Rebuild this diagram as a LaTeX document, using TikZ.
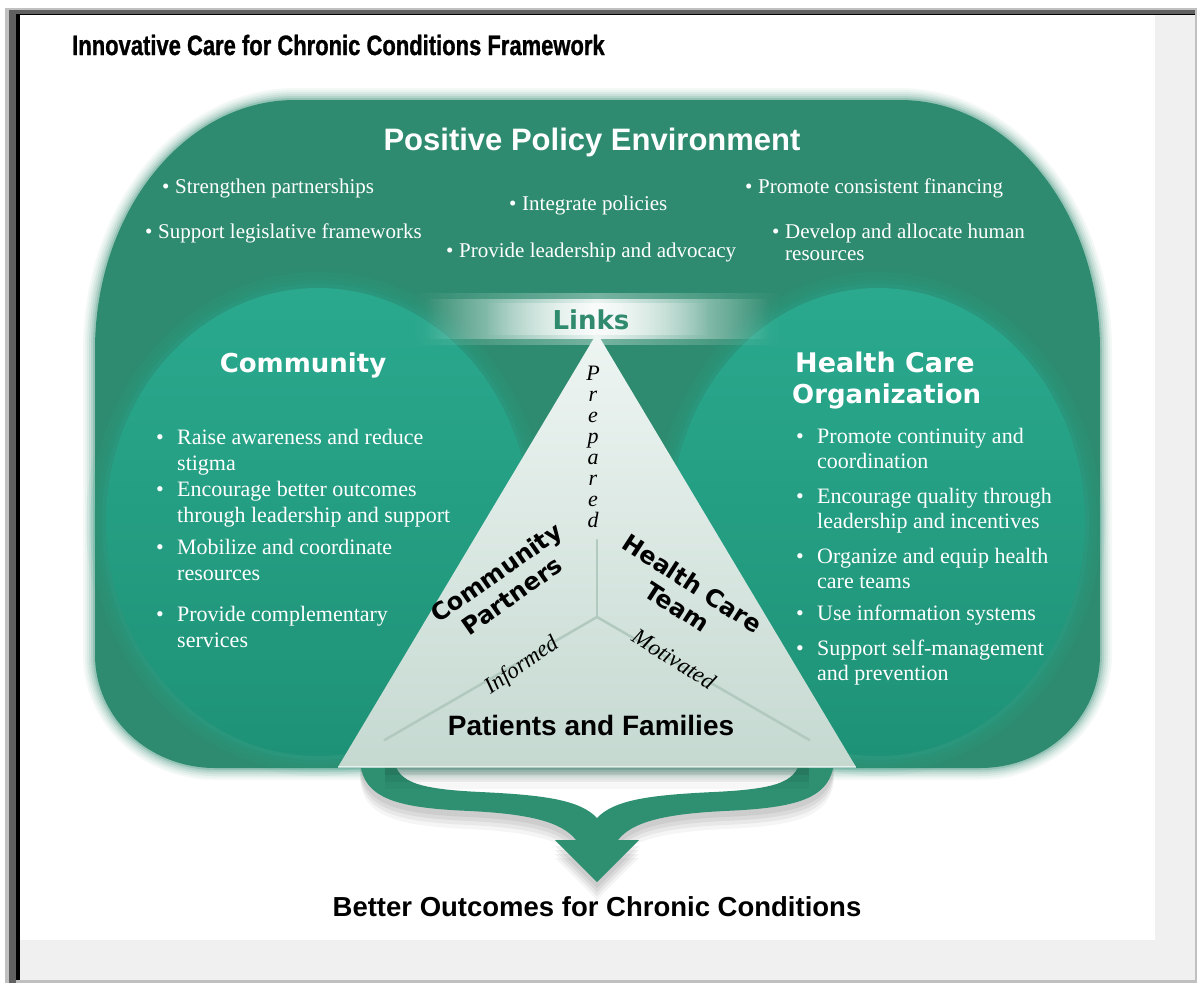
\documentclass[tikz,border=0pt]{standalone}
\usepackage{fontspec}
\usetikzlibrary{calc,fadings}
\setmainfont{Liberation Serif}
\newfontfamily\hvfont{Liberation Sans}
\newfontfamily\djfont{DejaVu Sans}
\newfontfamily\condfont[FakeStretch=0.785,FakeBold=1]{Liberation Sans}
\definecolor{outergreen}{HTML}{2E8B6F}
\definecolor{tealtop}{HTML}{2AA98E}
\definecolor{tealbot}{HTML}{1E9276}
\definecolor{linkgreen}{HTML}{2F8A6E}
\definecolor{tritop}{HTML}{EEF5F2}
\definecolor{tribot}{HTML}{C5D9D1}
\definecolor{arrowgreen}{HTML}{2E9071}
\definecolor{pagegray}{HTML}{F0F0F0}
\definecolor{lightrule}{HTML}{C0C0C0}
\definecolor{darkrule}{HTML}{606060}
\definecolor{yline}{HTML}{B2C9C0}
\tikzfading[name=hfade, left color=transparent!100, right color=transparent!100, middle color=transparent!0]
\tikzset{
  wtext/.style={text=white, inner sep=0pt},
  polfont/.style={font=\fontsize{21}{24}\selectfont},
  bulfont/.style={font=\fontsize{22}{26}\selectfont},
  head/.style={text=white, inner sep=0pt, font=\djfont\bfseries\fontsize{26}{31}\selectfont},
  tritext/.style={text=black, inner sep=0pt, align=center, font=\djfont\bfseries\fontsize{24}{28}\selectfont},
  itext/.style={text=black, inner sep=0pt, font=\itshape\fontsize{23}{23}\selectfont},
  bigsans/.style={text=black, inner sep=0pt, font=\hvfont\bfseries\fontsize{28}{32}\selectfont},
}
\def\outerpath{(95,350) arc[start angle=180, end angle=270, x radius=200, y radius=250]
  -- (900,100) arc[start angle=270, end angle=360, x radius=200, y radius=250]
  -- (1100,655) arc[start angle=0, end angle=90, x radius=120, y radius=113]
  -- (215,768) arc[start angle=90, end angle=180, x radius=120, y radius=113] -- cycle}
\def\arrowpath{(597,818) .. controls (580,800) and (545,795) .. (480,792)
  .. controls (420,789) and (398,783) .. (394,760) -- (360,760)
  .. controls (362,800) and (400,808) .. (470,811)
  .. controls (530,814) and (562,822) .. (576,840)
  -- (555,840) -- (597,882) -- (639,840) -- (618,840)
  .. controls (632,822) and (664,814) .. (724,811)
  .. controls (794,808) and (832,800) .. (834,760) -- (800,760)
  .. controls (796,783) and (774,789) .. (714,792)
  .. controls (649,795) and (614,800) .. (597,818) -- cycle}
\begin{document}
\begin{tikzpicture}[x=1pt,y=-1pt]
\useasboundingbox (0,0) rectangle (1197,983);
% page frame
\fill[pagegray] (0,0) rectangle (1197,983);
\fill[white] (0,0) rectangle (1197,8);
\fill[white] (0,0) rectangle (5,983);
\fill[white] (20,15) rectangle (1155,940);
\fill[lightrule] (5,8) rectangle (1197,10);
\fill[darkrule] (9,10) rectangle (1195,14);
\fill[black] (16,14) rectangle (1195,15);
\fill[lightrule] (5,8) rectangle (9,983);
\fill[darkrule] (9,10) rectangle (16,983);
\fill[black] (16,14) rectangle (20,980);
\fill[lightrule] (1195,8) rectangle (1197,983);
\fill[lightrule] (16,980) rectangle (1197,983);

% outer policy environment shape with soft edge
\foreach \lw/\op in {24/0.05, 20/0.06, 16/0.08, 12/0.10, 8/0.14, 4/0.22}
  \draw[outergreen, line width=\lw pt, opacity=\op, line join=round] \outerpath;
\fill[outergreen] \outerpath;

% community and health care organization areas
\foreach \d/\op in {20/0.05, 16/0.07, 12/0.09, 8/0.12, 4/0.18} {
  \fill[tealtop, opacity=\op] (318,522) ellipse [x radius=212+\d, y radius=234+\d];
  \fill[tealtop, opacity=\op] (878,522) ellipse [x radius=207+\d, y radius=234+\d];
}
\shade[top color=tealtop, bottom color=tealbot] (318,522) ellipse [x radius=212, y radius=234];
\shade[top color=tealtop, bottom color=tealbot] (878,522) ellipse [x radius=207, y radius=234];

% links band
\fill[white, opacity=0.35, path fading=hfade] (412,293) rectangle (782,345);
\fill[white, opacity=0.85, path fading=hfade] (425,299) rectangle (769,339);
\fill[white, opacity=0.75, path fading=hfade] (485,303) rectangle (709,335);

% arrow with shadow
\foreach \dy/\op in {18/0.04, 14/0.05, 10/0.06, 6/0.06}
  \fill[black, opacity=\op, yshift=-\dy pt] \arrowpath;
\fill[arrowgreen] \arrowpath;

% shadow under triangle
\foreach \h/\op in {22/0.03, 15/0.05, 8/0.07}
  \fill[black, opacity=\op] (385,767) rectangle (809,767+\h);

% triangle
\coordinate (apex) at (597,333);
\coordinate (bl) at (338,767);
\coordinate (br) at (856,767);
\coordinate (ctr) at (597,617);
\shade[top color=tritop, bottom color=tribot] (apex) -- (br) -- (bl) -- cycle;
\draw[white, opacity=0.6, line width=2pt] (bl) -- (br);
% Y lines
\coordinate (ytop) at (597,540);
\coordinate (yl) at ($(ctr)!0.82!(bl)$);
\coordinate (yr) at ($(ctr)!0.82!(br)$);
\draw[yline, line width=2.5pt, line cap=round] (ctr) -- (ytop);
\draw[yline, line width=2.5pt, line cap=round] (ctr) -- (yl);
\draw[yline, line width=2.5pt, line cap=round] (ctr) -- (yr);

% texts
\node[anchor=west, inner sep=0pt, font=\condfont\bfseries\fontsize{28}{32}\selectfont] (title) at (72,45) {Innovative Care for Chronic Conditions Framework};
\node[wtext, font=\hvfont\bfseries\fontsize{31}{36}\selectfont] (ppe) at (592,142) {Positive Policy Environment};

\node[wtext, polfont, anchor=north west] (pol1) at (162,178.5) {\makebox[13pt][l]{•}Strengthen partnerships};
\node[wtext, polfont, anchor=north west] (pol2) at (145,223.5) {\makebox[13pt][l]{•}Support legislative frameworks};
\node[wtext, polfont, anchor=north west] (pol3) at (509,195.5) {\makebox[13pt][l]{•}Integrate policies};
\node[wtext, polfont, anchor=north west] (pol4) at (446,242.5) {\makebox[13pt][l]{•}Provide leadership and advocacy};
\node[wtext, polfont, anchor=north west] (pol5) at (745,178.5) {\makebox[13pt][l]{•}Promote consistent financing};
\node[wtext, font=\fontsize{21}{22}\selectfont, anchor=north west, align=left] (pol6) at (772,223.5) {\makebox[13pt][l]{•}Develop and allocate human\\\hspace*{13pt}resources};

\node[text=linkgreen, inner sep=0pt, font=\djfont\bfseries\fontsize{26}{31}\selectfont] (links) at (591,320) {Links};

\node[head] (community) at (303,365) {Community};
\node[head, anchor=west, font=\djfont\bfseries\fontsize{27}{31}\selectfont] (hco1h) at (795,362) {Health Care};
\node[head, anchor=west] (hco2h) at (792,396) {Organization};

\node[wtext, bulfont, anchor=north west, align=left] (com1) at (156,429) {\makebox[21pt][l]{•}Raise awareness and reduce\\\hspace*{21pt}stigma};
\node[wtext, bulfont, anchor=north west, align=left] (com2) at (156,481) {\makebox[21pt][l]{•}Encourage better outcomes\\\hspace*{21pt}through leadership and support};
\node[wtext, bulfont, anchor=north west, align=left] (com3) at (156,539) {\makebox[21pt][l]{•}Mobilize and coordinate\\\hspace*{21pt}resources};
\node[wtext, bulfont, anchor=north west, align=left] (com4) at (156,606) {\makebox[21pt][l]{•}Provide complementary\\\hspace*{21pt}services};

\node[wtext, font=\fontsize{22}{25}\selectfont, anchor=north west, align=left] (hb1) at (796,428) {\makebox[21pt][l]{•}Promote continuity and\\\hspace*{21pt}coordination};
\node[wtext, font=\fontsize{22}{25}\selectfont, anchor=north west, align=left] (hb2) at (796,488) {\makebox[21pt][l]{•}Encourage quality through\\\hspace*{21pt}leadership and incentives};
\node[wtext, font=\fontsize{22}{25}\selectfont, anchor=north west, align=left] (hb3) at (796,548) {\makebox[21pt][l]{•}Organize and equip health\\\hspace*{21pt}care teams};
\node[wtext, font=\fontsize{22}{25}\selectfont, anchor=north west, align=left] (hb4) at (796,605) {\makebox[21pt][l]{•}Use information systems};
\node[wtext, font=\fontsize{22}{25}\selectfont, anchor=north west, align=left] (hb5) at (796,640) {\makebox[21pt][l]{•}Support self-management\\\hspace*{21pt}and prevention};

\node[itext, align=center, font=\itshape\fontsize{22}{21}\selectfont] (prepared) at (593,447) {P\\r\\e\\p\\a\\r\\e\\d};
\node[tritext, rotate=35] (cp) at (504,584) {Community\\Partners};
\node[tritext, rotate=-33] (hct) at (685,595) {Health Care\\Team};
\node[itext, rotate=35] (informed) at (522,666) {Informed};
\node[itext, rotate=-32] (motivated) at (674,659) {Motivated};
\node[bigsans] (pf) at (591,725) {Patients and Families};
\node[bigsans, font=\hvfont\bfseries\fontsize{27.5}{32}\selectfont] (bo) at (597,907) {Better Outcomes for Chronic Conditions};
\end{tikzpicture}
\end{document}
